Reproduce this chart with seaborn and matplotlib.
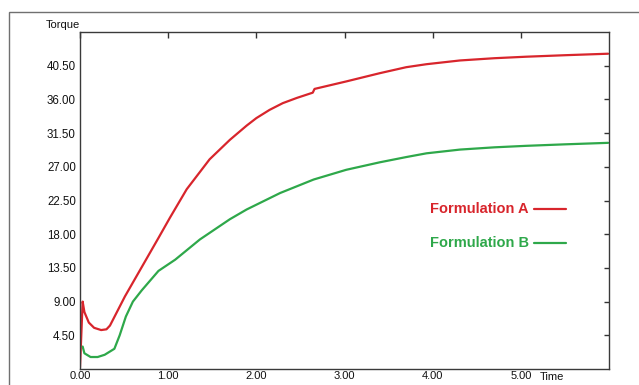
import numpy as np
import pandas as pd
import seaborn as sns
import matplotlib
matplotlib.use("Agg")
import matplotlib.pyplot as plt
from matplotlib.patches import Rectangle
from matplotlib.lines import Line2D
from matplotlib.ticker import FormatStrFormatter

# ---- data ----
time_a = [0.0, 0.03, 0.05, 0.10, 0.16, 0.24, 0.30, 0.34, 0.51, 0.70, 0.89, 1.02, 1.21,
          1.47, 1.70, 1.89, 2.00, 2.15, 2.30, 2.46, 2.64, 2.66, 3.02, 3.40, 3.70, 3.93, 4.31,
          4.70, 5.06, 5.50, 5.99]
torque_a = [0.2, 9.0, 7.6, 6.2, 5.5, 5.2, 5.3, 5.8, 9.7, 13.6, 17.5, 20.2, 24.0,
            28.0, 30.6, 32.5, 33.5, 34.6, 35.5, 36.2, 36.9, 37.4, 38.4, 39.5, 40.3, 40.7, 41.2,
            41.5, 41.7, 41.9, 42.1]

time_b = [0.03, 0.05, 0.12, 0.20, 0.28, 0.39, 0.45, 0.52, 0.60, 0.70, 0.89, 1.08, 1.36,
          1.70, 1.89, 2.27, 2.65, 3.02, 3.40, 3.70, 3.93, 4.31, 4.70, 5.06, 5.50, 5.99]
torque_b = [3.0, 2.1, 1.6, 1.6, 1.9, 2.7, 4.5, 7.0, 9.0, 10.5, 13.1, 14.6, 17.3,
            20.0, 21.3, 23.5, 25.3, 26.6, 27.6, 28.3, 28.8, 29.3, 29.6, 29.8, 30.0, 30.2]

series_names = ["Formulation A", "Formulation B"]
x_ticks = [0, 1, 2, 3, 4, 5]
y_ticks = [4.5, 9.0, 13.5, 18.0, 22.5, 27.0, 31.5, 36.0, 40.5]

RED = "#d8252c"
GREEN = "#2ea84a"

df = pd.concat([
    pd.DataFrame({"Time": time_a, "Torque": torque_a, "Series": series_names[0]}),
    pd.DataFrame({"Time": time_b, "Torque": torque_b, "Series": series_names[1]}),
])

sns.set_style("white")
plt.rcParams["font.family"] = ["Liberation Sans", "DejaVu Sans"]

W, H = 639, 385
fig = plt.figure(figsize=(W / 100, H / 100), dpi=100)
ax = fig.add_axes([80 / W, 1 - 369 / H, (609 - 80) / W, (369 - 32) / H])

sns.lineplot(data=df, x="Time", y="Torque", hue="Series",
             palette={series_names[0]: RED, series_names[1]: GREEN},
             estimator=None, sort=False, lw=1.6, legend=False, ax=ax)

ax.set_xlim(0, 6.0)
ax.set_ylim(0, 45.0)
ax.set_xticks(x_ticks)
ax.set_yticks(y_ticks)
ax.xaxis.set_major_formatter(FormatStrFormatter("%.2f"))
ax.yaxis.set_major_formatter(FormatStrFormatter("%.2f"))
ax.set_xlabel("")
ax.set_ylabel("")
ax.tick_params(axis="both", direction="in", top=True, right=True,
               labelsize=8.3, colors="#333333", labelcolor="#111111", width=1)
ax.tick_params(axis="x", length=4.3, pad=1.5, labelsize=8)
ax.tick_params(axis="y", length=3.6, pad=3)
for s in ax.spines.values():
    s.set_color("#3a3a3a")
    s.set_linewidth(1.0)

# axis titles
fig.text(80 / W, 1 - 25 / H, "Torque", ha="right", va="center", fontsize=8, color="#111111")
fig.text(540 / W, 1 - 377 / H, "Time", ha="left", va="center", fontsize=8, color="#111111")

# in-plot legend
ya, yb = (369 - 209) / 337, (369 - 243) / 337
xt = (430 - 80) / 529
x0, x1 = (534 - 80) / 529, (566 - 80) / 529
ax.text(xt, ya, series_names[0], transform=ax.transAxes, ha="left", va="center",
        fontsize=10.5, fontweight="bold", color=RED)
ax.text(xt, yb, series_names[1], transform=ax.transAxes, ha="left", va="center",
        fontsize=10.5, fontweight="bold", color=GREEN)
ax.add_line(Line2D([x0, x1], [ya, ya], transform=ax.transAxes, color=RED, lw=1.6))
ax.add_line(Line2D([x0, x1], [yb, yb], transform=ax.transAxes, color=GREEN, lw=1.6))

# outer frame
fig.add_artist(Rectangle((9 / W, -0.1), 1.0, (H - 12) / H + 0.1, transform=fig.transFigure,
                         fill=False, ec="#707070", lw=1.0))

fig.savefig("out.png", dpi=100)
